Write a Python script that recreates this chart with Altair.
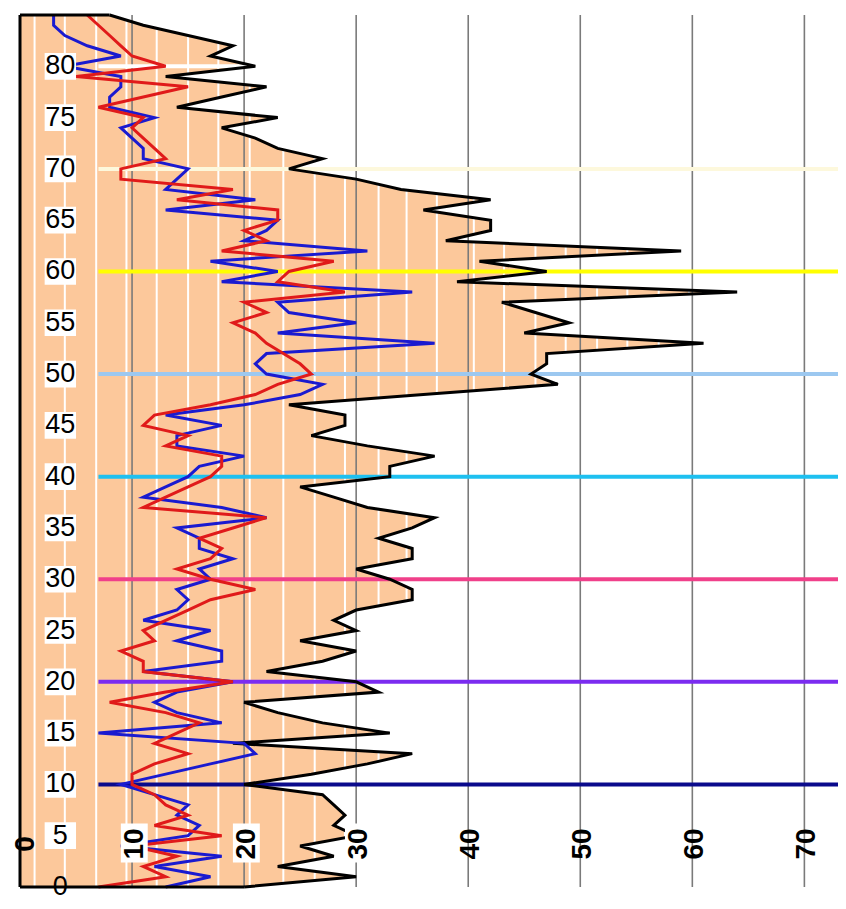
import altair as alt
import pandas as pd

ages = list(range(0, 86))
black = [20,30,23,28,25,30,28,29,28,27,20,26,31,35,19,33,27,23,20,32,30,22,27,30,25,30,28,30,35,35,
         33,30,35,35,32,35,37,31,28,25,33,33,37,31,26,29,29,24,36,48,45.6,47,47,61,45,49,46,43,64,39,
         47,41,59,38,42,42,36,42,34,30,24,27,23,21,18,23,14,18,22,13,21,17,19,15,11,8]
blue = [13,17,12,18,9,15,16,14,15,12,9,13,17,21,20,7,18,14,12,14,19,11,18,18,14,17,11,14,15,14,
        17,16,19,16,16,14,22,18,11,13,15,16,20,14,14,18,13,20,25,27,22,21,22,37,23,30,24,23,35,18,
        23,17,31,20,22,23,13,21,13,14,15,11,11,10,9,12,8,8,9,9,4,9,6,4,3,3]
red = [7,13,11,14,10,18,12,15,13,12,10,10,12,15,12,14,16,13,8,13,19,11,11,9,12,11,13,15,17,21,
       17,14,17,18,16,19,22,11,13,15,17,18,18,13,15,11,12,17,21,23,26,25,23.5,22,21,19,22,20,29,23,
       24,28,18,22,20,23,23,14,19,9,9,13,12,11,10,11,7,11,15,5,13,10,9,8,7,6]

y_labels = [0,5,10,15,20,25,30,35,40,45,50,55,60,65,70,75,80]
x_labels = [0,10,20,30,40,50,60,70]
grid_x = [10,20,30,40,50,60,70]
levels = [10,20,30,40,50,60,70]
level_colors = ["#0a0a8c","#7b2cf0","#f0408a","#1ec0f0","#9cc8f0","#ffff00","#fdf8dc"]
stripes = [1.3,4.0,6.8,9.5,12.2,15.0,17.7,20.5,23.5,26.3,29.0,32.0,34.5,37.2,40.5,43.2,46.0,48.7,51.5,54.2,57.0,59.7,62.5]

XMAX, YMAX = 73.0, 85
df = pd.DataFrame({"age": ages, "black": black, "blue": blue, "red": red})
df["right"] = XMAX
X = alt.Scale(domain=[0, XMAX], nice=False, zero=False)
Y = alt.Scale(domain=[0, YMAX], nice=False, zero=False)
def xa(f): return alt.X(f, scale=X, axis=None)
def ya(f): return alt.Y(f, scale=Y, axis=None)

base = alt.Chart(df)
area = base.mark_area(orient="horizontal", color="#fcc89b").encode(y=ya("age:Q"), x=xa("black:Q"))
sdf = pd.DataFrame({"s": stripes, "y0": 0, "y1": YMAX})
stripe = alt.Chart(sdf).mark_rule(color="white", strokeWidth=2).encode(x=xa("s:Q"), y=ya("y0:Q"), y2="y1:Q")
cover = base.mark_area(orient="horizontal", color="white").encode(y=ya("age:Q"), x=xa("black:Q"), x2="right:Q")
gdf = pd.DataFrame({"g": grid_x, "y0": 0, "y1": YMAX})
grid = alt.Chart(gdf).mark_rule(color="#7a7a7a", strokeWidth=1.6).encode(x=xa("g:Q"), y=ya("y0:Q"), y2="y1:Q")
ldf = pd.DataFrame({"lv": levels, "c": level_colors, "x0": 7, "x1": XMAX})
lv = alt.Chart(ldf).mark_rule(strokeWidth=4).encode(
    y=ya("lv:Q"), x=xa("x0:Q"), x2="x1:Q", color=alt.Color("c:N", scale=None))
w80 = alt.Chart(pd.DataFrame({"lv": [80], "x0": [7], "x1": [20.5]})).mark_rule(color="white", strokeWidth=4).encode(
    y=ya("lv:Q"), x=xa("x0:Q"), x2="x1:Q")
bl = base.mark_line(color="black", strokeWidth=3).encode(x=xa("black:Q"), y=ya("age:Q"), order="age:Q")
bu = base.mark_line(color="#1a1ad0", strokeWidth=3).encode(x=xa("blue:Q"), y=ya("age:Q"), order="age:Q")
rd = base.mark_line(color="#e01a1a", strokeWidth=3).encode(x=xa("red:Q"), y=ya("age:Q"), order="age:Q")
frame = pd.DataFrame({"a": [0, YMAX], "z": [0, 0], "b": [black[0], black[-1]]})
hb = alt.Chart(frame).mark_rule(color="black", strokeWidth=3).encode(y=ya("a:Q"), x=xa("z:Q"), x2="b:Q")
vdf = pd.DataFrame({"z": [0], "y0": [0], "y1": [YMAX]})
vb = alt.Chart(vdf).mark_rule(color="black", strokeWidth=3).encode(x=xa("z:Q"), y=ya("y0:Q"), y2="y1:Q")

ydf = pd.DataFrame({"v": y_labels, "t": [str(v) for v in y_labels]})
ydf["x0"], ydf["x1"], ydf["xc"] = 2.2, 5.0, 3.6
ydf["y0"], ydf["y1"] = ydf["v"] - 1.3, ydf["v"] + 1.3
ybox = alt.Chart(ydf[ydf.v > 0]).mark_rect(color="white").encode(
    x=xa("x0:Q"), x2="x1:Q", y=ya("y0:Q"), y2="y1:Q")
ytxt = alt.Chart(ydf).mark_text(font="Liberation Sans Narrow, Liberation Sans", fontSize=27, color="black").encode(
    x=xa("xc:Q"), y=ya("v:Q"), text="t:N")
xdf = pd.DataFrame({"v": x_labels, "t": [str(v) for v in x_labels]})
xdf["xp"] = xdf["v"].where(xdf["v"] > 0, 0.3)
xdf["py"], xdf["x0"], xdf["x1"], xdf["y0"], xdf["y1"] = 4.2, xdf["v"] - 1.0, xdf["v"] + 1.4, 2.4, 6.2
xbox = alt.Chart(xdf[xdf.v.isin([10, 20, 30])]).mark_rect(color="white").encode(
    x=xa("x0:Q"), x2="x1:Q", y=ya("y0:Q"), y2="y1:Q")
xtxt = alt.Chart(xdf).mark_text(font="Liberation Sans Narrow, Liberation Sans", fontSize=28, fontWeight="bold",
                                angle=270, color="black", dy=3).encode(
    x=xa("xp:Q"), y=ya("py:Q"), text="t:N")

chart = alt.layer(area, stripe, cover, grid, lv, w80, bl, bu, rd, hb, vb, ybox, ytxt, xbox, xtxt).properties(
    width=818, height=872, autosize=alt.AutoSizeParams(type="none"),
    padding={"left": 12, "top": 7, "right": 0, "bottom": 14}
).configure_view(stroke=None)
chart.save("out.html", embed_options={"renderer": "svg", "actions": False})
